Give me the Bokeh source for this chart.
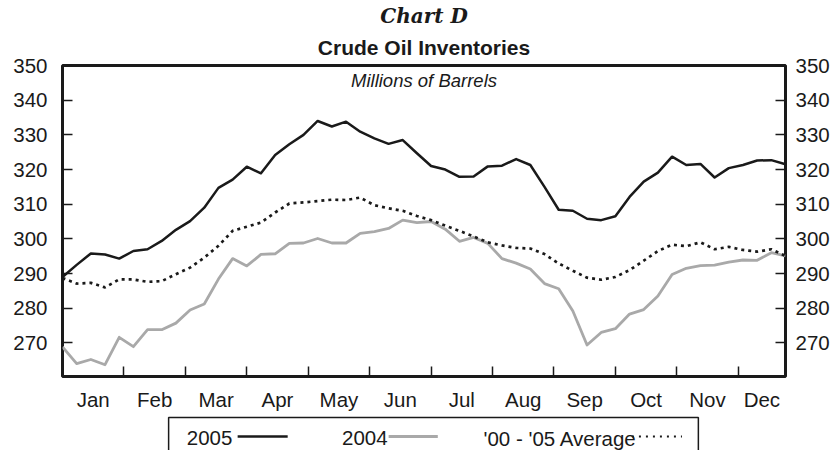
from bokeh.plotting import figure
from bokeh.layouts import column
from bokeh.models import Range1d, LinearAxis, FixedTicker, ColumnDataSource, Label, Title
from bokeh.embed import file_html
from bokeh.resources import INLINE

# ---------------- data ----------------
chart_label = "Chart D"
chart_title = "Crude Oil Inventories"
subtitle = "Millions of Barrels"
months = ["Jan", "Feb", "Mar", "Apr", "May", "Jun",
          "Jul", "Aug", "Sep", "Oct", "Nov", "Dec"]
y_ticks = [270, 280, 290, 300, 310, 320, 330, 340, 350]
series_names = ["2005", "2004", "'00 - '05 Average"]

inv_2005 = [289.0, 292.5, 295.8, 295.5, 294.3, 296.5, 297.0, 299.4, 302.6, 305.1,
            309.0, 314.7, 317.1, 320.8, 318.9, 324.2, 327.3, 330.0, 334.0, 332.4,
            333.8, 330.9, 329.0, 327.4, 328.5, 324.7, 321.0, 320.0, 317.9, 318.0,
            320.9, 321.1, 323.0, 321.3, 315.0, 308.4, 308.1, 305.8, 305.4, 306.5,
            312.1, 316.5, 319.1, 323.7, 321.3, 321.6, 317.7, 320.4, 321.3, 322.6,
            322.7, 321.5]
inv_2004 = [268.8, 264.0, 265.2, 263.7, 271.6, 268.9, 273.8, 273.8, 275.7, 279.5,
            281.2, 288.4, 294.3, 292.2, 295.5, 295.7, 298.7, 298.8, 300.1, 298.8,
            298.8, 301.6, 302.1, 303.0, 305.4, 304.7, 305.0, 302.8, 299.3, 300.4,
            298.7, 294.3, 293.0, 291.3, 287.1, 285.6, 279.2, 269.4, 273.0, 274.1,
            278.3, 279.6, 283.5, 289.7, 291.5, 292.3, 292.4, 293.3, 293.9, 293.8,
            296.0, 295.1]
inv_avg = [288.7, 287.1, 287.3, 286.0, 288.3, 288.3, 287.6, 287.8, 289.8, 291.7,
           294.6, 298.0, 302.3, 303.5, 304.7, 307.6, 310.2, 310.5, 310.9, 311.3,
           311.2, 311.9, 309.7, 308.8, 308.1, 306.6, 305.4, 303.8, 302.3, 300.7,
           299.0, 298.1, 297.4, 297.2, 295.6, 292.9, 290.8, 288.8, 288.2, 289.0,
           291.0, 293.7, 296.5, 298.3, 297.9, 299.0, 297.0, 297.7, 296.8, 296.3,
           297.0, 295.1]
weeks = list(range(len(inv_2005)))

# ---------------- style ----------------
INK = "#1a1a1a"
GRAY = "#a9a9a9"
SANS = "Liberation Sans"
FS = "20.5px"
W = 838
H_MAIN, H_LEG = 414, 36

weeks_per_month = 52 / 12
bounds = [m * weeks_per_month for m in range(1, 12)]
edges = [0.0] + bounds + [float(weeks[-1])]
centers = [round((edges[i] + edges[i + 1]) / 2, 4) for i in range(12)]

src = ColumnDataSource(dict(week=weeks, y2005=inv_2005, y2004=inv_2004, yavg=inv_avg))

# ---------------- main plot ----------------
p = figure(width=W, height=H_MAIN, x_range=Range1d(0, weeks[-1]),
           y_range=Range1d(260.3, 350), output_backend="svg",
           toolbar_location=None, title_location=None,
           x_axis_type=None, y_axis_type=None,
           min_border_left=62, min_border_right=53,
           min_border_top=65, min_border_bottom=38)
p.outline_line_color = INK
p.outline_line_width = 3
p.background_fill_color = "white"

# titles: first added sits next to the frame
p.add_layout(Title(text=chart_title, align="center", vertical_align="bottom",
                   standoff=13, text_font=SANS, text_font_style="bold",
                   text_font_size="21px", text_color=INK), "above")
p.add_layout(Title(text=chart_label, align="center", vertical_align="bottom",
                   standoff=0, text_font="DejaVu Serif",
                   text_font_style="bold italic", text_font_size="20px",
                   text_color=INK), "above")

xaxis = LinearAxis(ticker=FixedTicker(ticks=centers, minor_ticks=bounds),
                   major_label_overrides={c: m for c, m in zip(centers, months)})
xaxis.axis_line_color = None
xaxis.major_tick_line_color = None
xaxis.major_tick_in = 0
xaxis.major_tick_out = 0
xaxis.minor_tick_in = 10
xaxis.minor_tick_out = 0
xaxis.minor_tick_line_width = 1.5
xaxis.minor_tick_line_color = INK
xaxis.major_label_standoff = 11
xaxis.major_label_text_font = SANS
xaxis.major_label_text_font_size = FS
xaxis.major_label_text_color = INK
p.add_layout(xaxis, "below")

for loc, standoff in (("left", 15), ("right", 10)):
    ax = LinearAxis(ticker=FixedTicker(ticks=y_ticks))
    ax.axis_line_color = None
    ax.major_tick_in = 10
    ax.major_tick_out = 0
    ax.major_tick_line_width = 1.5
    ax.major_tick_line_color = INK
    ax.minor_tick_line_color = None
    ax.major_label_standoff = standoff
    ax.major_label_text_font = SANS
    ax.major_label_text_font_size = FS
    ax.major_label_text_color = INK
    p.add_layout(ax, loc)

p.line(x="week", y="y2004", source=src, line_color=GRAY, line_width=2.8,
       line_join="round")
p.line(x="week", y="yavg", source=src, line_color=INK, line_width=2.7,
       line_dash="3 4")
p.line(x="week", y="y2005", source=src, line_color=INK, line_width=2.5,
       line_join="round")

p.add_layout(Label(x=weeks[-1] / 2, y=345.7, text=subtitle, text_align="center",
                   text_baseline="middle", text_font=SANS,
                   text_font_style="italic", text_font_size="18.5px",
                   text_color=INK))

# ---------------- legend ----------------
lg = figure(width=W, height=H_LEG, x_range=Range1d(0, W),
            y_range=Range1d(H_LEG, 0), output_backend="svg",
            toolbar_location=None, title_location=None,
            x_axis_type=None, y_axis_type=None, min_border=0)
lg.outline_line_color = None
box_l, box_r, box_t = 123, 737, 3
lg.line(x=[box_l, box_l, box_r, box_r], y=[H_LEG, box_t, box_t, H_LEG],
        line_color=INK, line_width=1.5)

text_x = [144, 324, 488]
sample_x = [(203, 261), (378, 435), (660, 718)]
sample_style = [dict(line_color=INK, line_width=2.5),
                dict(line_color=GRAY, line_width=2.8),
                dict(line_color=INK, line_width=2, line_dash="2 5")]
mid = 23.5
for name, tx, (x0, x1), st in zip(series_names, text_x, sample_x, sample_style):
    lg.add_layout(Label(x=tx, y=mid, text=name, text_align="left",
                        text_baseline="middle", text_font=SANS,
                        text_font_size=FS, text_color=INK))
    lg.line(x=[x0, x1], y=[mid - 1.5, mid - 1.5], **st)

layout = column(p, lg, spacing=0)
open("out.html", "w").write(file_html(layout, INLINE))
